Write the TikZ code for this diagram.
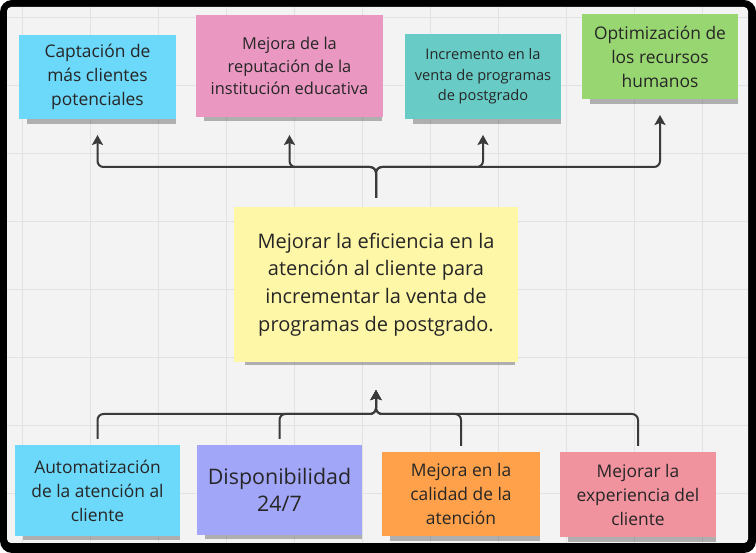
\documentclass[tikz,border=0pt]{standalone}
\usepackage{fontspec}
\setmainfont{Open Sans}
\usetikzlibrary{arrows.meta, shadows}
\definecolor{mycyan}{RGB}{108,216,250}
\definecolor{mypink}{RGB}{234,152,193}
\definecolor{myteal}{RGB}{104,203,197}
\definecolor{mygreen}{RGB}{152,214,114}
\definecolor{myyellow}{RGB}{255,247,168}
\definecolor{myviolet}{RGB}{162,166,248}
\definecolor{myorange}{RGB}{255,161,74}
\definecolor{myrose}{RGB}{240,147,159}
\definecolor{mytext}{RGB}{38,38,38}
\definecolor{myline}{RGB}{58,58,58}
\definecolor{mybg}{RGB}{243,243,243}
\definecolor{mygrid}{RGB}{226,226,226}
\tikzstyle{note} = [draw=none, outer sep=0, inner sep=0, align=center,
    text=mytext, drop shadow={shadow xshift=4pt, shadow yshift=-7pt,
    shadow scale=0.95, opacity=0.28, fill=black}]
\tikzstyle{fa} = [font=\fontsize{17.4}{24}\selectfont]
\tikzstyle{fb} = [font=\fontsize{16.4}{22.5}\selectfont]
\tikzstyle{fc} = [font=\fontsize{14.6}{20.5}\selectfont]
\tikzstyle{fd} = [font=\fontsize{20}{27.7}\selectfont]
\tikzstyle{fe} = [font=\fontsize{21.4}{27}\selectfont]
\tikzstyle{conn} = [line width=2pt, draw=myline, rounded corners=6pt,
    -{Stealth[length=10pt, width=11pt, inset=2pt]}]

\begin{document}
\begin{tikzpicture}[x=1pt, y=-1pt]
\useasboundingbox (0,0) rectangle (756,553);

%%% frame and grid
\fill[black, rounded corners=12] (0,0) rectangle (756,553);
\fill[mybg, rounded corners=4] (7,7) rectangle (748,543);
\begin{scope}
\clip (7,7) rectangle (748,543);
\foreach \gx in {22,90,...,702} \draw[mygrid, line width=1pt] (\gx,7) -- (\gx,543);
\foreach \gy in {18,86,...,494} \draw[mygrid, line width=1pt] (7,\gy) -- (748,\gy);
\end{scope}

%%% top notes
\node[note, fa, fill=mycyan, minimum width=157, minimum height=84] (t1) at (97.5,77) {Captación de\\más clientes\\potenciales};
\node[note, fb, fill=mypink, minimum width=187, minimum height=102] (t2) at (289.5,66) {Mejora de la\\reputación de la\\institución educativa};
\node[note, fc, fill=myteal, minimum width=156, minimum height=85] (t3) at (483,76.5) {Incremento en la\\venta de programas\\de postgrado};
\node[note, fa, fill=mygreen, minimum width=156, minimum height=85] (t4) at (660,56.5) {Optimización de\\los recursos\\humanos};

%%% goal
\node[note, fd, fill=myyellow, minimum width=284, minimum height=155] (goal) at (376,284.5) {Mejorar la eficiencia en la\\atención al cliente para\\incrementar la venta de\\programas de postgrado.};

%%% bottom notes
\node[note, fa, fill=mycyan, minimum width=165, minimum height=91] (b1) at (97.5,490.5) {Automatización\\de la atención al\\cliente};
\node[note, fe, fill=myviolet, minimum width=165, minimum height=90] (b2) at (279.5,490) {Disponibilidad\\24/7};
\node[note, fa, fill=myorange, minimum width=158, minimum height=84] (b3) at (461,494) {Mejora en la\\calidad de la\\atención};
\node[note, fa, fill=myrose, minimum width=156, minimum height=85] (b4) at (638,494.5) {Mejorar la\\experiencia del\\cliente};

\coordinate (bust) at (376,167);
\coordinate (busb) at (376,414);

%%% connectors
\draw[conn, shorten <=9pt, shorten >=16pt] (goal.north) -- (goal.north |- bust) -| (t1.south);
\draw[conn, shorten <=9pt, shorten >=18pt] (goal.north) -- (goal.north |- bust) -| (t2.south);
\draw[conn, shorten <=9pt, shorten >=16pt] (goal.north) -- (goal.north |- bust) -| (t3.south);
\draw[conn, shorten <=9pt, shorten >=16pt] (goal.north) -- (goal.north |- bust) -| (t4.south);

\draw[conn, shorten <=6pt, shorten >=28pt] (b1.north) -- (b1.north |- busb) -| (goal.south);
\draw[conn, shorten <=6pt, shorten >=28pt] (b2.north) -- (b2.north |- busb) -| (goal.south);
\draw[conn, shorten <=6pt, shorten >=28pt] (b3.north) -- (b3.north |- busb) -| (goal.south);
\draw[conn, shorten <=6pt, shorten >=28pt] (b4.north) -- (b4.north |- busb) -| (goal.south);

\end{tikzpicture}
\end{document}
